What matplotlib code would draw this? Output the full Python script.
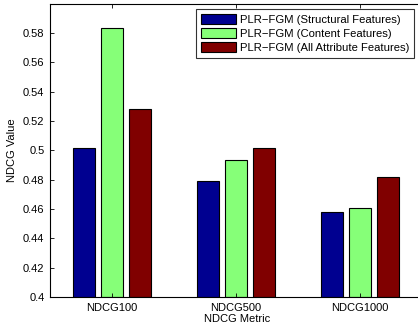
import matplotlib
matplotlib.use("Agg")
import matplotlib.pyplot as plt
import numpy as np

categories = ["NDCG100", "NDCG500", "NDCG1000"]
series_names = ["PLR\u2212FGM (Structural Features)",
                "PLR\u2212FGM (Content Features)",
                "PLR\u2212FGM (All Attribute Features)"]
structural = [0.5015, 0.4793, 0.4582]
content = [0.5837, 0.4934, 0.4605]
all_attr = [0.5281, 0.5018, 0.4820]
yticks = [0.4, 0.42, 0.44, 0.46, 0.48, 0.5, 0.52, 0.54, 0.56, 0.58]
ytick_labels = ["0.4", "0.42", "0.44", "0.46", "0.48", "0.5", "0.52", "0.54", "0.56", "0.58"]

colors = ["#000090", "#86FF78", "#800000"]

plt.rcParams['font.family'] = ['Liberation Sans', 'DejaVu Sans']

fig = plt.figure(figsize=(4.18, 3.30), dpi=100)
ax = fig.add_axes([50/418, 33/330, 374/418, 293/330])

x = np.arange(1, len(categories) + 1)
width = 0.18
offsets = [-0.224, 0.0, 0.224]
for vals, off, c, name in zip([structural, content, all_attr], offsets, colors, series_names):
    ax.bar(x + off, np.array(vals) - 0.4, width, bottom=0.4, color=c,
           edgecolor="black", linewidth=0.8, label=name)

ax.set_xlim(0.5, 3.5 + 2 / 124.0)
ax.set_ylim(0.4, 0.5998)
ax.set_xticks(x)
ax.set_xticklabels(categories, fontsize=8)
ax.set_yticks(yticks)
ax.set_yticklabels(ytick_labels, fontsize=8)
ax.tick_params(direction="in", length=3, width=0.6, top=True, right=False, pad=4)
for s in ax.spines.values():
    s.set_linewidth(0.8)
ax.spines['right'].set_visible(False)
ax.set_xlabel("NDCG Metric", fontsize=8, labelpad=1)
ax.set_ylabel("NDCG Value", fontsize=8, labelpad=4)

leg = ax.legend(loc="upper right", bbox_to_anchor=(414/418, 1 - 9/330),
                bbox_transform=fig.transFigure, fontsize=8.1, frameon=True,
                fancybox=False, edgecolor="black", handlelength=3.1,
                handleheight=0.95, borderpad=0.45, labelspacing=0.28,
                handletextpad=0.3, borderaxespad=0)
leg.get_frame().set_linewidth(0.8)

fig.savefig("out.png", dpi=100)
